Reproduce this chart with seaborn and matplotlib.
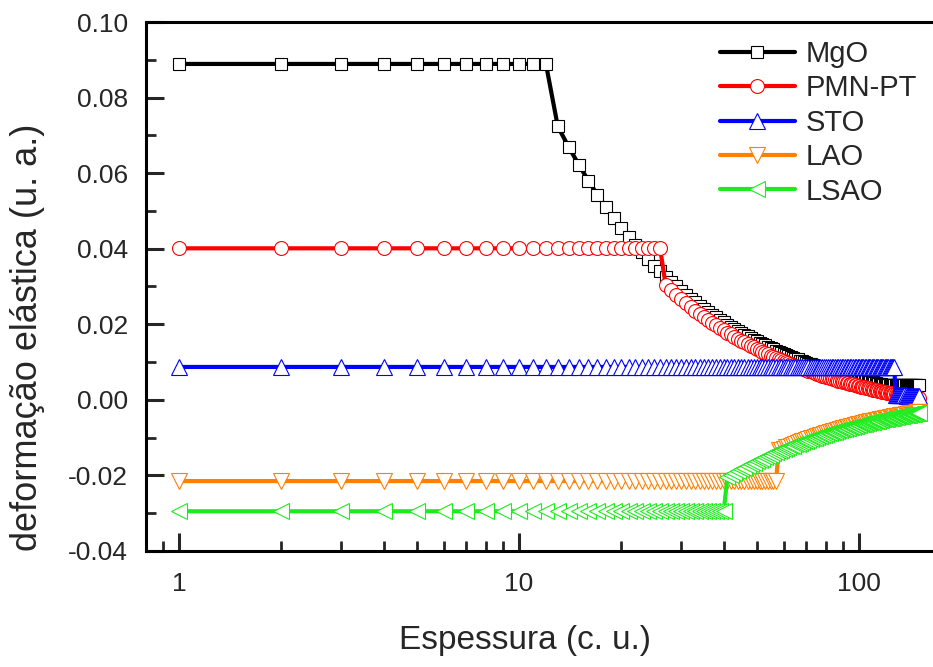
import numpy as np
import pandas as pd
import matplotlib
matplotlib.use('Agg')
import matplotlib.pyplot as plt
from matplotlib.ticker import MultipleLocator, LogLocator, NullFormatter, FixedLocator, FixedFormatter
import seaborn as sns

# --- data (strain vs. film thickness in unit cells) ---
names = ['MgO', 'PMN-PT', 'STO', 'LAO', 'LSAO']
# constant strain below the critical thickness
plateau = [0.0889, 0.0401, 0.0087, -0.0215, -0.0295]
critical = [12, 26, 127, 57, 40]   # last thickness (c.u.) on the plateau

# relaxed strain, one value per unit cell after the critical thickness, up to 150
mgo_relaxed = [
    0.0724, 0.0669, 0.0622, 0.0580, 0.0543, 0.0511, 0.0481, 0.0455, 0.0431, 0.0410,
    0.0390, 0.0372, 0.0355, 0.0340, 0.0325, 0.0312, 0.0300, 0.0288, 0.0278, 0.0268,
    0.0258, 0.0249, 0.0241, 0.0233, 0.0225, 0.0218, 0.0211, 0.0205, 0.0199, 0.0193,
    0.0188, 0.0182, 0.0177, 0.0172, 0.0168, 0.0163, 0.0159, 0.0155, 0.0151, 0.0147,
    0.0144, 0.0140, 0.0137, 0.0134, 0.0130, 0.0127, 0.0124, 0.0122, 0.0119, 0.0116,
    0.0114, 0.0111, 0.0109, 0.0107, 0.0104, 0.0102, 0.0100, 0.0098, 0.0096, 0.0094,
    0.0092, 0.0090, 0.0088, 0.0087, 0.0085, 0.0083, 0.0082, 0.0080, 0.0078, 0.0077,
    0.0075, 0.0074, 0.0073, 0.0071, 0.0070, 0.0069, 0.0067, 0.0066, 0.0065, 0.0064,
    0.0063, 0.0061, 0.0060, 0.0059, 0.0058, 0.0057, 0.0056, 0.0055, 0.0054, 0.0053,
    0.0052, 0.0051, 0.0050, 0.0049, 0.0048, 0.0048, 0.0047, 0.0046, 0.0045, 0.0044,
    0.0043, 0.0043, 0.0042, 0.0041, 0.0040, 0.0040, 0.0039, 0.0038, 0.0040, 0.0040,
    0.0040, 0.0040, 0.0040, 0.0040, 0.0040, 0.0040, 0.0040, 0.0040, 0.0040, 0.0040,
    0.0040, 0.0040, 0.0040, 0.0040, 0.0040, 0.0040, 0.0040, 0.0040, 0.0040, 0.0040,
    0.0040, 0.0040, 0.0040, 0.0040, 0.0040, 0.0040, 0.0040, 0.0040,
]
pmnpt_relaxed = [
    0.0303, 0.0290, 0.0278, 0.0266, 0.0256, 0.0246, 0.0236, 0.0228, 0.0219, 0.0212,
    0.0204, 0.0197, 0.0191, 0.0184, 0.0178, 0.0173, 0.0167, 0.0162, 0.0157, 0.0152,
    0.0148, 0.0143, 0.0139, 0.0135, 0.0131, 0.0127, 0.0124, 0.0120, 0.0117, 0.0114,
    0.0111, 0.0108, 0.0105, 0.0102, 0.0099, 0.0097, 0.0094, 0.0092, 0.0090, 0.0087,
    0.0085, 0.0083, 0.0081, 0.0079, 0.0077, 0.0075, 0.0073, 0.0071, 0.0069, 0.0068,
    0.0066, 0.0064, 0.0063, 0.0061, 0.0060, 0.0058, 0.0057, 0.0055, 0.0054, 0.0053,
    0.0051, 0.0050, 0.0049, 0.0047, 0.0046, 0.0045, 0.0044, 0.0043, 0.0042, 0.0041,
    0.0040, 0.0039, 0.0037, 0.0036, 0.0035, 0.0035, 0.0034, 0.0033, 0.0032, 0.0031,
    0.0030, 0.0029, 0.0028, 0.0027, 0.0027, 0.0026, 0.0025, 0.0024, 0.0024, 0.0023,
    0.0022, 0.0021, 0.0021, 0.0020, 0.0019, 0.0019, 0.0018, 0.0017, 0.0017, 0.0016,
    0.0016, 0.0015, 0.0014, 0.0014, 0.0013, 0.0013, 0.0012, 0.0012, 0.0011, 0.0010,
    0.0010, 0.0009, 0.0009, 0.0008, 0.0008, 0.0007, 0.0007, 0.0006, 0.0006, 0.0005,
    0.0005, 0.0005, 0.0004, 0.0004,
]
sto_relaxed = [
    0.0013, 0.0013, 0.0013, 0.0012, 0.0012, 0.0012, 0.0012, 0.0012, 0.0012, 0.0012,
    0.0011, 0.0011, 0.0011, 0.0011, 0.0011, 0.0011, 0.0011, 0.0011, 0.0010, 0.0010,
    0.0010, 0.0010, 0.0010,
]
lao_relaxed = [
    -0.0134, -0.0132, -0.0129, -0.0126, -0.0124, -0.0121, -0.0119, -0.0116, -0.0114, -0.0112,
    -0.0110, -0.0108, -0.0106, -0.0104, -0.0102, -0.0100, -0.0098, -0.0097, -0.0095, -0.0093,
    -0.0092, -0.0090, -0.0089, -0.0087, -0.0086, -0.0084, -0.0083, -0.0082, -0.0080, -0.0079,
    -0.0078, -0.0076, -0.0075, -0.0074, -0.0073, -0.0072, -0.0071, -0.0070, -0.0069, -0.0067,
    -0.0066, -0.0065, -0.0064, -0.0063, -0.0063, -0.0062, -0.0061, -0.0060, -0.0059, -0.0058,
    -0.0057, -0.0056, -0.0056, -0.0055, -0.0054, -0.0053, -0.0053, -0.0052, -0.0051, -0.0050,
    -0.0050, -0.0049, -0.0048, -0.0048, -0.0047, -0.0046, -0.0046, -0.0045, -0.0045, -0.0044,
    -0.0043, -0.0043, -0.0042, -0.0042, -0.0041, -0.0041, -0.0040, -0.0039, -0.0039, -0.0038,
    -0.0038, -0.0037, -0.0037, -0.0036, -0.0036, -0.0035, -0.0035, -0.0035, -0.0034, -0.0034,
    -0.0033, -0.0033, -0.0032,
]
lsao_relaxed = [
    -0.0205, -0.0200, -0.0194, -0.0189, -0.0184, -0.0180, -0.0175, -0.0171, -0.0167, -0.0163,
    -0.0159, -0.0156, -0.0152, -0.0149, -0.0145, -0.0142, -0.0139, -0.0136, -0.0134, -0.0131,
    -0.0128, -0.0126, -0.0123, -0.0121, -0.0118, -0.0116, -0.0114, -0.0112, -0.0110, -0.0108,
    -0.0106, -0.0104, -0.0102, -0.0100, -0.0099, -0.0097, -0.0095, -0.0094, -0.0092, -0.0091,
    -0.0089, -0.0088, -0.0086, -0.0085, -0.0084, -0.0082, -0.0081, -0.0080, -0.0078, -0.0077,
    -0.0076, -0.0075, -0.0074, -0.0073, -0.0072, -0.0071, -0.0069, -0.0068, -0.0067, -0.0066,
    -0.0065, -0.0065, -0.0064, -0.0063, -0.0062, -0.0061, -0.0060, -0.0059, -0.0058, -0.0058,
    -0.0057, -0.0056, -0.0055, -0.0055, -0.0054, -0.0053, -0.0052, -0.0052, -0.0051, -0.0050,
    -0.0050, -0.0049, -0.0048, -0.0048, -0.0047, -0.0047, -0.0046, -0.0045, -0.0045, -0.0044,
    -0.0044, -0.0043, -0.0043, -0.0042, -0.0041, -0.0041, -0.0040, -0.0040, -0.0039, -0.0039,
    -0.0038, -0.0038, -0.0037, -0.0037, -0.0037, -0.0036, -0.0036, -0.0035, -0.0035, -0.0034,
]
relaxed = [mgo_relaxed, pmnpt_relaxed, sto_relaxed, lao_relaxed, lsao_relaxed]

# styles
colors = ['#000000', '#FF0000', '#0000FF', '#FF8000', '#1EEB1E']
markers = ['s', 'o', '^', 'v', '<']
msizes = [9, 10, 11.5, 11.5, 11.5]

sns.set_style('ticks')
plt.rcParams['font.family'] = ['Liberation Sans', 'DejaVu Sans']
plt.rcParams['axes.unicode_minus'] = False

fig = plt.figure(figsize=(9.33, 6.67), dpi=100)
ax = fig.add_axes([0.1565, 0.174, 0.8435, 0.793])

for name, p, hc, rel, c, m, ms in zip(names, plateau, critical, relaxed, colors, markers, msizes):
    vals = [p] * hc + rel
    df = pd.DataFrame({'espessura': np.arange(1, len(vals) + 1), 'deformacao': vals})
    sns.lineplot(data=df, x='espessura', y='deformacao', ax=ax, color=c, linewidth=3,
                 marker=m, markersize=ms, markerfacecolor='white', markeredgecolor=c,
                 markeredgewidth=0.8, label=name, estimator=None, sort=False)

ax.set_xscale('log')
ax.set_xlim(0.8, 165)
ax.set_ylim(-0.04, 0.10)

ax.xaxis.set_major_locator(FixedLocator([1, 10, 100]))
ax.xaxis.set_major_formatter(FixedFormatter(['1', '10', '100']))
ax.xaxis.set_minor_locator(LogLocator(base=10, subs=np.arange(2, 10)))
ax.xaxis.set_minor_formatter(NullFormatter())
yt = [-0.04, -0.02, 0.00, 0.02, 0.04, 0.06, 0.08, 0.10]
ax.yaxis.set_major_locator(FixedLocator(yt))
ax.yaxis.set_major_formatter(FixedFormatter(['%.2f' % v for v in yt]))
ax.yaxis.set_minor_locator(MultipleLocator(0.01))

ax.tick_params(which='major', direction='in', length=13, width=2.2, labelsize=19)
ax.tick_params(which='minor', direction='in', length=7, width=2.0)
ax.tick_params(axis='x', which='major', pad=15)
ax.tick_params(axis='y', which='major', pad=13)

for side in ['left', 'bottom', 'top']:
    ax.spines[side].set_linewidth(2.2)
    ax.spines[side].set_color('black')
ax.spines['right'].set_visible(False)

ax.set_xlabel('Espessura (c. u.)', fontsize=24)
ax.set_ylabel('deformação elástica (u. a.)', fontsize=26)
ax.xaxis.set_label_coords(0.4816, -0.140)
ax.yaxis.set_label_coords(-0.128, 0.403)

ax.legend(loc='upper left', bbox_to_anchor=(0.729, 0.966), frameon=False, fontsize=21,
          numpoints=1, handlelength=2.57, handletextpad=0.38, labelspacing=0.22,
          borderpad=0, borderaxespad=0)

fig.savefig('out.png', dpi=100)
